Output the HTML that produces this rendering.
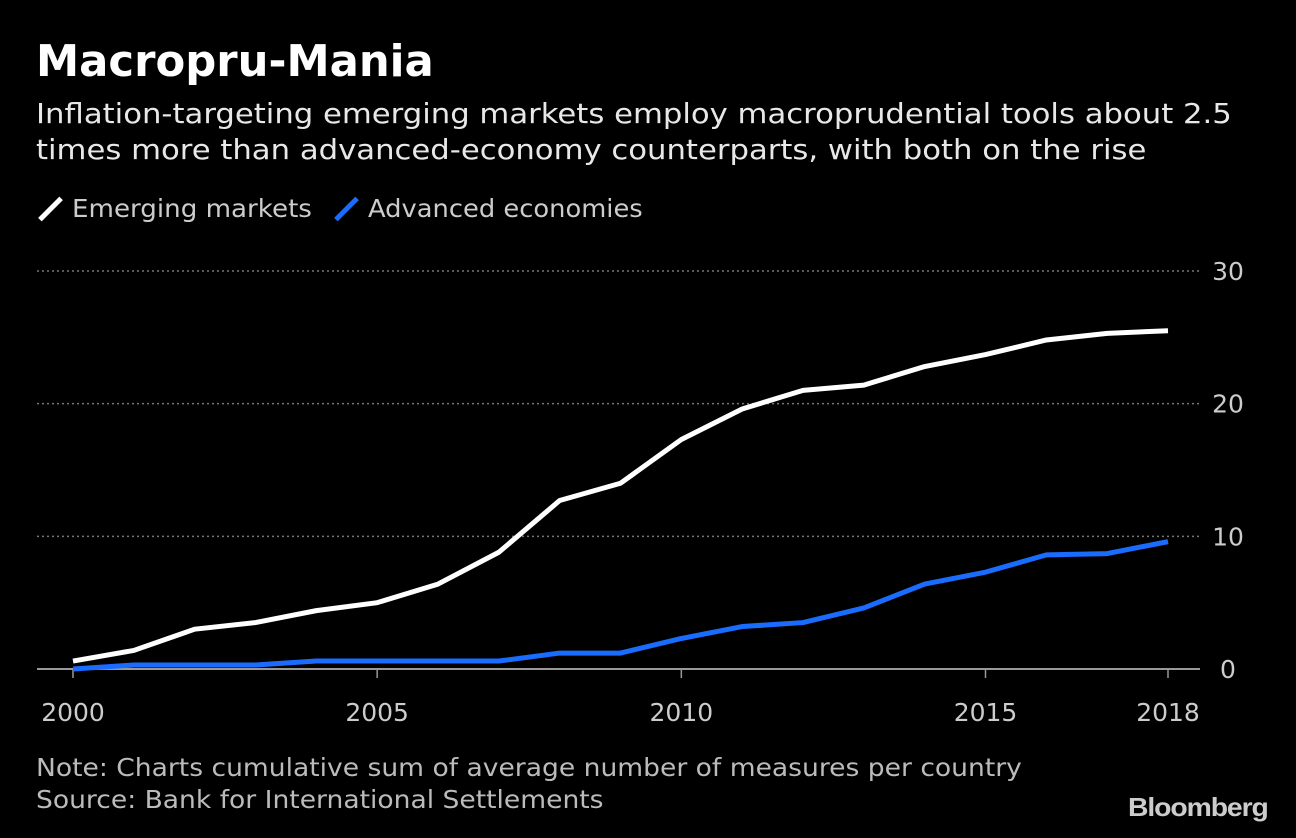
<!DOCTYPE html>
<html><head><meta charset="utf-8"><style>
html,body{margin:0;padding:0;background:#000;width:1296px;height:838px;overflow:hidden}
body{font-family:"Liberation Sans","DejaVu Sans",sans-serif;color:#fff;position:relative}
.t{position:absolute;white-space:nowrap;transform-origin:0 0}
</style></head><body>
<div class="t" style="left:36px;top:36px;font-size:44px;font-weight:bold;font-family:'DejaVu Sans',sans-serif;transform:scaleX(0.985)">Macropru-Mania</div>
<div class="t" style="left:36px;top:96px;font-size:28px;line-height:36px;font-family:'DejaVu Sans',sans-serif;color:#e8e8e8;transform:scaleX(1.096)">Inflation-targeting emerging markets employ macroprudential tools about 2.5<br>times more than advanced-economy counterparts, with both on the rise</div>
<div class="t" style="left:36px;top:194px;font-size:25px;font-family:'DejaVu Sans',sans-serif;color:#ccc"><span style="position:absolute;left:12px;top:0px;width:5px;height:30px;background:#fff;transform:rotate(45deg)"></span><span style="position:absolute;left:36px;top:0;transform:scaleX(1.045);transform-origin:0 0">Emerging markets</span></div>
<div class="t" style="left:332px;top:194px;font-size:25px;font-family:'DejaVu Sans',sans-serif;color:#ccc"><span style="position:absolute;left:12px;top:0px;width:5px;height:30px;background:#1a6cff;transform:rotate(45deg)"></span><span style="position:absolute;left:36px;top:0;transform:scaleX(1.03);transform-origin:0 0">Advanced economies</span></div>
<svg id="chart" width="1296" height="838" style="position:absolute;left:0;top:0"></svg>
<div class="t" style="left:36px;top:752px;font-size:25px;line-height:32px;font-family:'DejaVu Sans',sans-serif;color:#bbb;transform:scaleX(1.062)">Note: Charts cumulative sum of average number of measures per country<br>Source: Bank for International Settlements</div>
<div class="t" style="left:1128px;top:792px;font-size:26px;font-weight:bold;color:#ccc;letter-spacing:-1px;transform:scaleX(1.09)">Bloomberg</div>
<script>
const years=[2000,2001,2002,2003,2004,2005,2006,2007,2008,2009,2010,2011,2012,2013,2014,2015,2016,2017,2018];
const emerging=[0.6,1.4,3.0,3.5,4.4,5.0,6.4,8.8,12.7,14.0,17.3,19.6,21.0,21.4,22.8,23.7,24.8,25.3,25.5];
const advanced=[0,0.3,0.3,0.3,0.6,0.6,0.6,0.6,1.2,1.2,2.3,3.2,3.5,4.6,6.4,7.3,8.6,8.7,9.6];
const yTicks=[0,10,20,30];
const xTicks=[2000,2005,2010,2015,2018];
const NS="http://www.w3.org/2000/svg";
const svg=document.getElementById('chart');
const x=v=>73+(v-2000)*(1168-73)/18;
const y=v=>669-v*(669-271)/30;
function mk(tag,attrs){const e=document.createElementNS(NS,tag);for(const k in attrs)e.setAttribute(k,attrs[k]);svg.appendChild(e);return e;}
yTicks.forEach(t=>{
  const l=mk('line',{x1:37,x2:1200,y1:y(t),y2:y(t),stroke:t===0?'#999':'#777','stroke-width':t===0?2:1.5,'stroke-dasharray':t===0?'none':'2,3'});
  
  
  const tx=mk('text',{x:1228,y:y(t)+9,fill:'#ccc','font-size':25,'text-anchor':'middle','font-family':'DejaVu Sans,sans-serif'});
  tx.textContent=t;
  
  
});
xTicks.forEach(t=>{
  const l=mk('line',{x1:x(t),x2:x(t),y1:669,y2:678,stroke:'#999','stroke-width':1.5});
  
  
  const tx=mk('text',{x:x(t),y:721,fill:'#ccc','font-size':25,'text-anchor':'middle','font-family':'DejaVu Sans,sans-serif'});
  tx.textContent=t;
  
  
});
function line(vals,color,name){
  const p=mk('polyline',{points:vals.map((v,i)=>x(years[i])+','+y(v)).join(' '),fill:'none',stroke:color,'stroke-width':5,'stroke-linejoin':'round'});
  
  
}
line(advanced,'#1a6cff','advanced-economies-line');
line(emerging,'#ffffff','emerging-markets-line');
</script>
</body></html>
